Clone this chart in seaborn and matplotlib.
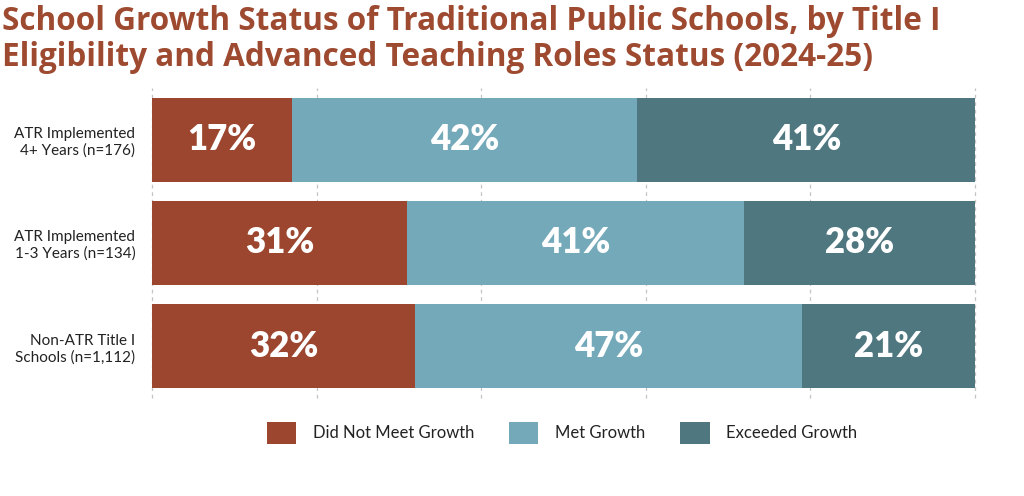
import numpy as np
import pandas as pd
import matplotlib
matplotlib.use("Agg")
import matplotlib.pyplot as plt
from matplotlib.patches import Patch
import seaborn as sns

groups = ["ATR Implemented\n4+ Years (n=176)",
          "ATR Implemented\n1-3 Years (n=134)",
          "Non-ATR Title I\nSchools (n=1,112)"]
did_not_meet = [17, 31, 32]
met = [42, 41, 47]
exceeded = [41, 28, 21]
categories = ["Did Not Meet Growth", "Met Growth", "Exceeded Growth"]
colors = ["#9C462F", "#74A9BA", "#4F777F"]
title_color = "#9E4A30"

sns.set_theme(style="white")
plt.rcParams["font.family"] = ["Lato", "DejaVu Sans"]

df = pd.DataFrame({"group": groups, "dnm": did_not_meet, "met": met, "exc": exceeded})
df["c1"] = df["dnm"]
df["c2"] = df["dnm"] + df["met"]
df["c3"] = df["c2"] + df["exc"]

fig = plt.figure(figsize=(10.24, 4.96), dpi=100)
ax = fig.add_axes([0.1484, 0.1976, 0.8036, 0.625])

# stacked: draw totals first, then smaller cumulative sums on top
for col, color in zip(["c3", "c2", "c1"], colors[::-1]):
    sns.barplot(data=df, x=col, y="group", color=color, orient="h",
                width=0.81, saturation=1, ax=ax, zorder=3, linewidth=0)

for i, row in df.iterrows():
    starts = [0, row["c1"], row["c2"]]
    vals = [row["dnm"], row["met"], row["exc"]]
    for s, v in zip(starts, vals):
        ax.text(s + v / 2, i, f"{v}%", ha="center", va="center",
                color="white", fontsize=25, fontweight="heavy", zorder=4)

ax.set_xlim(0, 100)
ax.set_ylim(2.5, -0.5)
ax.set_xticks([0, 20, 40, 60, 80, 100])
ax.xaxis.grid(True, linestyle=(0, (3, 3)), color="#c4c4c4", linewidth=0.9, zorder=0)
ax.set_axisbelow(True)
for gl in ax.get_xgridlines():
    gl.set_clip_on(False)
ax.set_xticklabels([])
ax.tick_params(axis="both", length=0)
ax.tick_params(axis="y", labelsize=11, labelcolor="#222222", pad=12)
for lbl in ax.get_yticklabels():
    lbl.set_horizontalalignment("right")
ax.set_xlabel("")
ax.set_ylabel("")
sns.despine(ax=ax, left=True, bottom=True)

fig.text(0.002, 0.94, "School Growth Status of Traditional Public Schools, by Title I",
         fontsize=22.7, fontweight="bold", color=title_color, ha="left", va="baseline",
         family=["Open Sans", "DejaVu Sans"])
fig.text(0.002, 0.867, "Eligibility and Advanced Teaching Roles Status (2024-25)",
         fontsize=22.7, fontweight="bold", color=title_color, ha="left", va="baseline",
         family=["Open Sans", "DejaVu Sans"])

handles = [Patch(facecolor=c, edgecolor="none") for c in colors]
fig.legend(handles, categories, loc="center", bbox_to_anchor=(0.549, 0.127), ncol=3,
           frameon=False, fontsize=12, handlelength=1.75, handleheight=1.7,
           columnspacing=2.1, handletextpad=1.0, labelcolor="#222222")

fig.savefig("out.png", dpi=100)
